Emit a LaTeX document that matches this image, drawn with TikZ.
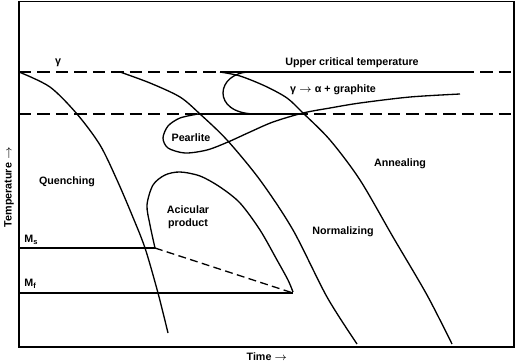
\documentclass[tikz,border=0pt]{standalone}
\usepackage{fontspec}
\setmainfont{Liberation Sans}

\begin{document}
\begin{tikzpicture}[x=0.02cm, y=-0.02cm,
    lbl/.style={font=\bfseries\fontsize{6.1}{7.1}\selectfont, inner sep=0pt, align=center},
    curve/.style={line width=0.75pt},
    critline/.style={line width=0.75pt, dash pattern=on 7pt off 3.5pt},
    msline/.style={line width=0.75pt, dash pattern=on 4.5pt off 2.5pt}
]
    \useasboundingbox (0,0) rectangle (520,362);
    \draw[line width=0.9pt] (19,1.5) rectangle (514,347);

    % critical temperatures
    \draw[critline] (19,72) -- (514,72);
    \draw[critline] (19,114) -- (514,114);
    \draw[curve] (220,72) -- (463,72);
    \draw[curve] (198,114) -- (303,114);

    % Ms and Mf
    \draw[curve] (19,248) -- (155,248);
    \draw[curve] (19,293) -- (293,293);
    \draw[msline] (155,248) -- (293,293);

    % cooling curves
    \draw[curve] plot[smooth] coordinates {(19,72) (50,87) (77,114) (100,145) (117,180) (132,215) (145,248) (158,293) (168,333)};
    \draw[curve] plot[smooth] coordinates {(120,72) (150,83) (180,97) (200,114) (227,140) (260,180) (293,230) (327,297) (357,344)};
    \draw[curve] plot[smooth] coordinates {(220,72) (240,76) (265,86) (287,98) (303,113) (330,140) (360,180) (393,237) (427,295) (452,344)};

    % transformation curves
    \draw[curve] (303,114) -- (256,114) .. controls (210,114) and (216,72) .. (250,72);
    \draw[curve] plot[smooth] coordinates {(460,94) (410,97) (360,103) (330,108) (303,113) (273,122) (250,132) (228,142) (207,150) (185,153) (168,148) (163,138) (168,126) (180,118) (198,114)};
    \draw[curve] plot[smooth] coordinates {(155,248) (150,225) (147,205) (153,185) (165,175) (180,172) (200,176) (220,187) (240,203) (260,230) (277,260) (288,280) (293,292)};

    \node[lbl] (gamma) at (58,63) {γ};
    \node[lbl] (ucrit) at (352,63) {Upper critical temperature};
    \node[lbl] (graphite) at (333,90) {γ $\rightarrow$ α + graphite};
    \node[lbl] (pearlite) at (191,138) {Pearlite};
    \node[lbl] (anneal) at (400,164) {Annealing};
    \node[lbl] (quench) at (67,182) {Quenching};
    \node[lbl] (acic) at (188,217) {Acicular\\product};
    \node[lbl] (norm) at (343,232) {Normalizing};
    \node[lbl, anchor=west] (ms) at (24,240) {M\textsubscript{s}};
    \node[lbl, anchor=west] (mf) at (24,284) {M\textsubscript{f}};
    \node[lbl, rotate=90] (temp) at (9,187) {Temperature $\rightarrow$};
    \node[lbl] (time) at (267,357) {Time $\rightarrow$};
\end{tikzpicture}
\end{document}
